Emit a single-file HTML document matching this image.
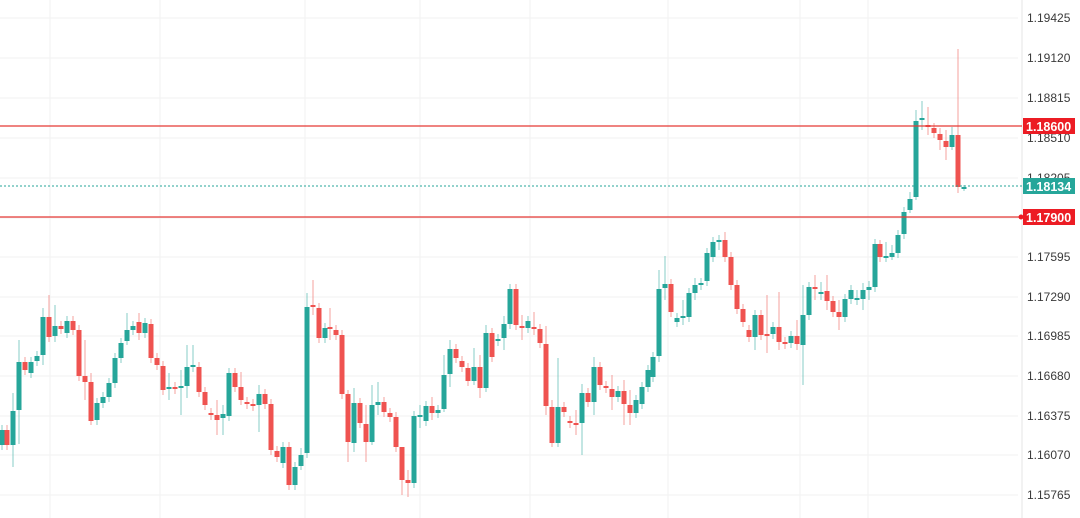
<!DOCTYPE html>
<html><head><meta charset="utf-8"><style>
html,body{margin:0;padding:0;background:#fff;}
svg{display:block;font-family:"Liberation Sans",sans-serif;}
</style></head><body>
<svg id="s" width="1080" height="518" viewBox="0 0 1080 518" xmlns="http://www.w3.org/2000/svg">
<g stroke="#f2f2f2" stroke-width="1">
<line x1="0" y1="18" x2="1018" y2="18"/><line x1="0" y1="58" x2="1018" y2="58"/><line x1="0" y1="98" x2="1018" y2="98"/><line x1="0" y1="138" x2="1018" y2="138"/><line x1="0" y1="178" x2="1018" y2="178"/><line x1="0" y1="218" x2="1018" y2="218"/><line x1="0" y1="257" x2="1018" y2="257"/><line x1="0" y1="297" x2="1018" y2="297"/><line x1="0" y1="336" x2="1018" y2="336"/><line x1="0" y1="376" x2="1018" y2="376"/><line x1="0" y1="416" x2="1018" y2="416"/><line x1="0" y1="455" x2="1018" y2="455"/><line x1="0" y1="495" x2="1018" y2="495"/>
<line x1="50" y1="0" x2="50" y2="518"/><line x1="160" y1="0" x2="160" y2="518"/><line x1="305" y1="0" x2="305" y2="518"/><line x1="420" y1="0" x2="420" y2="518"/><line x1="530" y1="0" x2="530" y2="518"/><line x1="668" y1="0" x2="668" y2="518"/><line x1="800" y1="0" x2="800" y2="518"/><line x1="868" y1="0" x2="868" y2="518"/>
</g>
<line x1="1022" y1="0" x2="1022" y2="518" stroke="#e6e6e6"/>
<g id="c"></g>
<line x1="0" y1="126" x2="1022" y2="126" stroke="#e53935" stroke-width="1.3"/>
<line x1="0" y1="217" x2="1022" y2="217" stroke="#e53935" stroke-width="1.3"/>
<line x1="0" y1="186" x2="1022" y2="186" stroke="#26a69a" stroke-width="1" stroke-dasharray="2,2"/>
<g fill="#3a3a3a" font-size="12">
<text x="1027" y="22">1.19425</text><text x="1027" y="62">1.19120</text><text x="1027" y="102">1.18815</text><text x="1027" y="142">1.18510</text><text x="1027" y="182">1.18205</text><text x="1027" y="261">1.17595</text><text x="1027" y="301">1.17290</text><text x="1027" y="340">1.16985</text><text x="1027" y="380">1.16680</text><text x="1027" y="420">1.16375</text><text x="1027" y="459">1.16070</text><text x="1027" y="499">1.15765</text>
</g>
<rect x="1023" y="118" width="52" height="16" fill="#ec1c24"/>
<text x="1026" y="131" fill="#fff" font-size="12.5" font-weight="bold">1.18600</text>
<rect x="1023" y="178" width="52" height="16" fill="#26a69a"/>
<text x="1026" y="191" fill="#fff" font-size="12.5" font-weight="bold">1.18134</text>
<rect x="1023" y="209" width="52" height="16" fill="#ec1c24"/>
<circle cx="1021" cy="217" r="2.5" fill="#ec1c24"/>
<text x="1026" y="222" fill="#fff" font-size="12.5" font-weight="bold">1.17900</text>
</svg>
<script>
var d=[[2,430,445,'g'],[7,430,445,'r'],[13,411,445,'g',393,467],[19,362,410,'g',340,444],[25,362,370,'r'],[31,362,373,'g'],[37,356,361,'g'],[43,317,355,'g',308,365],[49,317,337,'r',295,342],[55,326,336,'g',305,342],[61,326,329,'r'],[67,321,333,'g'],[73,321,330,'r'],[79,330,376,'r'],[85,376,382,'r',340,400],[91,382,421,'r',373,425],[97,403,420,'g'],[103,397,403,'g'],[109,383,397,'g'],[115,358,383,'g'],[121,343,358,'g'],[127,330,341,'g',313,345],[133,326,330,'g'],[139,322,333,'r',313,340],[145,323,333,'g'],[151,324,358,'r'],[157,358,365,'r'],[163,366,390,'r'],[169,387,389,'g',373,400],[175,387,389,'r'],[181,386,388,'g',370,415],[187,367,386,'g',345,398],[193,365,367,'g',345,372],[199,367,392,'r'],[205,392,405,'r'],[211,413,415,'r'],[217,415,420,'r',400,435],[223,414,418,'g',405,435],[229,373,416,'g'],[235,373,387,'r'],[241,387,400,'r',372,405],[247,402,404,'r'],[253,404,406,'r'],[259,394,405,'g',385,432],[265,394,404,'r'],[271,404,450,'r'],[277,451,457,'r'],[283,447,463,'g'],[289,447,485,'r'],[295,467,485,'g'],[301,455,466,'g',448,470],[307,307,453,'g',293,458],[313,305,307,'r',280,315],[319,308,338,'r'],[325,328,338,'g'],[330,327,329,'r',308,340],[336,330,335,'r'],[342,335,394,'r'],[348,394,442,'r',390,462],[354,403,443,'g',388,452],[360,403,423,'r'],[366,424,442,'r',405,462],[372,405,442,'g',385,445],[378,402,405,'g',382,415],[384,402,412,'r'],[390,413,417,'r'],[396,417,447,'r'],[402,447,480,'r',447,495],[408,480,483,'r',470,497],[414,416,483,'g'],[420,415,417,'g',405,428],[426,406,421,'g'],[432,406,413,'r',397,420],[438,410,413,'g'],[444,375,409,'g',355,412],[450,349,374,'g',340,387],[456,349,358,'r'],[462,361,367,'r'],[468,368,381,'r'],[474,367,381,'g',348,385],[480,367,388,'r',355,398],[486,333,388,'g',325,392],[492,333,357,'r'],[498,339,341,'g'],[504,324,338,'g',316,350],[510,289,324,'g'],[516,289,325,'r'],[522,326,328,'r',315,340],[528,321,328,'g'],[534,327,329,'r',312,335],[540,329,343,'r'],[546,344,406,'r',326,415],[552,407,443,'r',400,447],[558,407,443,'g',358,447],[564,407,412,'r'],[570,421,422,'r'],[576,423,424,'r',410,435],[582,393,423,'g',384,455],[588,393,402,'r'],[594,367,402,'g',357,415],[600,367,385,'r'],[606,386,388,'r'],[612,389,397,'r',375,410],[618,391,397,'g'],[624,391,404,'r',380,425],[630,405,413,'r',390,425],[636,400,413,'g'],[642,387,404,'g'],[648,370,387,'g',365,392],[653,357,377,'g'],[659,289,356,'g',270,362],[665,284,288,'g',256,300],[671,284,312,'r'],[677,318,322,'g'],[683,316,317,'g',300,325],[689,293,317,'g'],[695,285,293,'g',278,300],[701,283,285,'g'],[707,253,281,'g'],[713,242,257,'g'],[719,240,241,'g',235,250],[725,240,257,'r',232,262],[731,257,285,'r'],[737,285,309,'r'],[743,309,322,'r'],[749,330,337,'r'],[755,315,337,'g',310,350],[761,315,335,'r'],[767,334,335,'r',295,353],[773,327,334,'g'],[779,327,342,'r',292,350],[785,342,343,'r'],[791,336,343,'g'],[797,336,344,'r',320,350],[803,315,345,'g',285,385],[809,287,315,'g'],[815,287,288,'r',275,300],[821,292,293,'g',282,300],[827,291,301,'r',275,310],[833,301,312,'r'],[839,312,317,'r',300,330],[845,299,317,'g'],[851,290,299,'g'],[857,298,299,'g',290,305],[863,290,299,'g',283,310],[869,287,290,'g',281,300],[875,244,287,'g'],[880,244,257,'r',240,262],[886,256,258,'g',242,262],[892,253,257,'g',245,260],[898,235,253,'g'],[904,212,234,'g'],[910,199,210,'g',192,213],[916,121,197,'g',110,200],[922,118,120,'g',101,130],[928,125,127,'r',107,135],[934,128,133,'r'],[940,134,140,'r',128,150],[946,141,147,'r',130,160],[952,135,147,'g',127,150],[958,135,187,'r',49,193],[964,187,189,'g',185,191]];
var g=document.getElementById('c'),h='';
d.forEach(function(a){var x=a[0],t=Math.min(a[1],a[2]),b=Math.max(a[1],a[2]);if(b-t<2)b=t+2;var col=a[3]=='g'?'#26a69a':'#ef5350';var wt=a[4]!==undefined?a[4]:t-5,wb=a[5]!==undefined?a[5]:b+5;
h+='<line x1="'+x+'" y1="'+wt+'" x2="'+x+'" y2="'+wb+'" stroke="'+col+'" stroke-width="1" opacity="0.55"/>';
h+='<rect x="'+(x-2.5)+'" y="'+t+'" width="5" height="'+(b-t)+'" fill="'+col+'"/>';});
g.innerHTML=h;
</script>
</body></html>
